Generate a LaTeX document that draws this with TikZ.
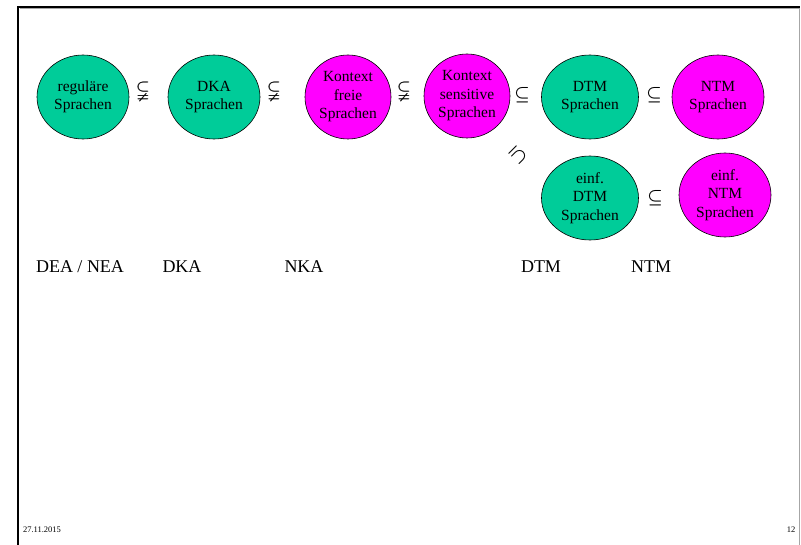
\documentclass[tikz,border=0pt]{standalone}
\usepackage{amsmath,amssymb}
\usepackage{fontspec}
\setmainfont{Liberation Serif}
\usetikzlibrary{shapes.geometric}
\definecolor{teal}{RGB}{0,204,153}
\definecolor{mag}{RGB}{255,0,255}
% heavier proper-subset sign: the glyph set twice with a small offset
\newcommand{\heavysubneq}{\rlap{$\subsetneqq$}\kern0.6pt$\subsetneqq$}
\tikzset{
  lang/.style={ellipse, draw=black, line width=0.6pt, inner sep=0pt,
    minimum width=92pt, minimum height=84pt, align=center,
    font=\fontsize{15.5}{18.5}\selectfont},
  det/.style={lang, fill=teal},
  nondet/.style={lang, fill=mag},
  rel/.style={inner sep=0pt, font=\fontsize{16}{18}\selectfont\boldmath},
  propsub/.style={inner sep=0pt, font=\fontsize{17}{19}\selectfont},
  model/.style={inner sep=0pt, anchor=base, font=\fontsize{18}{20}\selectfont},
  foot/.style={inner sep=0pt, font=\fontsize{8.5}{10}\selectfont}
}
\begin{document}
\begin{tikzpicture}[x=1pt,y=-1pt]
\useasboundingbox (0,0) rectangle (801,545);
% slide frame
\draw[gray!70, line width=0.8pt] (19.5,8.5) -- (799.5,8.5) -- (799.5,560);
\draw[black, line width=2.2pt] (18,560) -- (18,7) -- (800,7);

% language classes
\node[det]    (reg)  at (83,97)  {regul\"are\\Sprachen};
\node[det]    (dka)  at (214,97) {DKA\\Sprachen};
\node[nondet, minimum width=86pt] (cf)   at (348,97) {Kontext\\freie\\Sprachen};
\node[nondet, minimum width=86pt] (cs)   at (467,96) {Kontext\\sensitive\\Sprachen};
\node[det, minimum width=97pt]    (dtm)  at (590,97) {DTM\\Sprachen};
\node[nondet] (ntm)  at (718,97) {NTM\\Sprachen};
\node[det, minimum width=97pt]    (edtm) at (590,198) {einf.\\DTM\\Sprachen};
\node[nondet] (entm) at (725,195) {einf.\\NTM\\Sprachen};

% inclusions
\node[propsub] (r1) at (143,91) {\heavysubneq};
\node[propsub] (r2) at (274,91) {\heavysubneq};
\node[propsub] (r3) at (404,91) {\heavysubneq};
\node[rel] (r4) at (522,95) {$\subseteq$};
\node[rel] (r5) at (654,95) {$\subseteq$};
\node[rel, rotate=-135] (r6) at (518,155) {$\subseteq$};
\node[rel] (r7) at (655,198) {$\subseteq$};

% automaton models
\node[model] (m1) at (80,273)  {DEA / NEA};
\node[model] (m2) at (182,273) {DKA};
\node[model] (m3) at (304,273) {NKA};
\node[model] (m4) at (541,273) {DTM};
\node[model] (m5) at (651,273) {NTM};

% footer
\node[foot] (date) at (42,530) {27.11.2015};
\node[foot] (page) at (791,530) {12};
\end{tikzpicture}
\end{document}
